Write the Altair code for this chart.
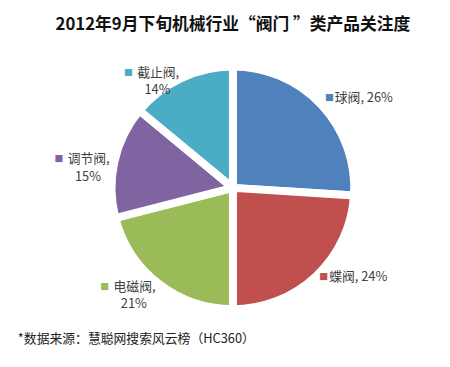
import altair as alt
import pandas as pd

names = ["球阀", "蝶阀", "电磁阀", "调节阀", "截止阀"]
values = [26, 24, 21, 15, 14]
colors = ["#4F81BD", "#C0504D", "#9BBB59", "#8064A2", "#4BACC6"]
title_text = "2012年9月下旬机械行业“阀门 ”类产品关注度"
source_text = "*数据来源：慧聪网搜索风云榜（HC360）"

df = pd.DataFrame({"name": names, "value": values, "order": list(range(len(names)))})

FONT = "Noto Sans CJK SC"
color_enc = alt.Color("name:N", scale=alt.Scale(domain=names, range=colors), legend=None)

arcs = alt.Chart(df).mark_arc(outerRadius=123, stroke="white", strokeWidth=8).encode(
    theta=alt.Theta("value:Q", stack=True),
    color=color_enc,
    order=alt.Order("order:Q"),
)

base = (
    alt.Chart(df)
    .transform_window(cum="sum(value)", sort=[alt.SortField("order")], frame=[None, 0])
    .transform_joinaggregate(total="sum(value)")
    .transform_calculate(mid="(datum.cum - datum.value / 2) / datum.total",
                         pct="datum.value + '%'")
)
theta_mid = alt.Theta("mid:Q", scale=alt.Scale(domain=[0, 1], range=[0, 6.283185307]))

right = base.transform_filter("datum.mid < 0.5")
left = base.transform_filter("datum.mid >= 0.5")

r_sq = right.mark_text(text="■", radius=128, align="left", baseline="middle", dy=-3, fontSize=9, font=FONT).encode(
    theta=theta_mid, color=color_enc)
r_txt = right.transform_calculate(lab="datum.name + ', ' + datum.pct").mark_text(
    radius=128, align="left", baseline="middle", dx=10, dy=-3, fontSize=13, font=FONT, color="#404040").encode(
    theta=theta_mid, text="lab:N")

l_sq = left.mark_text(text="■", radius=128, align="right", baseline="middle", dx=-47, dy=-1, fontSize=9, font=FONT).encode(
    theta=theta_mid, color=color_enc)
l_name = left.transform_calculate(lab="datum.name + ','").mark_text(
    radius=128, align="right", baseline="middle", dy=-1, fontSize=13, font=FONT, color="#404040").encode(
    theta=theta_mid, text="lab:N")
l_pct = left.mark_text(radius=128, align="center", baseline="middle", dx=-22, dy=17, fontSize=13, font=FONT, color="#404040").encode(
    theta=theta_mid, text="pct:N")

footer = alt.Chart(pd.DataFrame({"t": [source_text]})).mark_text(
    align="left", baseline="middle", fontSize=13, font=FONT, color="#222222").encode(
    x=alt.value(-6), y=alt.value(302), text="t:N")

chart = (
    alt.layer(arcs, r_sq, r_txt, l_sq, l_name, l_pct, footer)
    .resolve_scale(theta="independent")
    .properties(
        width=424, height=298,
        padding={"left": 10, "top": 6, "right": 0, "bottom": 0},
        title=alt.TitleParams(title_text, fontSize=17, font=FONT, fontWeight="bold", anchor="middle", offset=7, color="#111111"),
    )
    .configure_view(stroke=None)
)

chart.save("out.html", embed_options={"renderer": "svg", "actions": False})
